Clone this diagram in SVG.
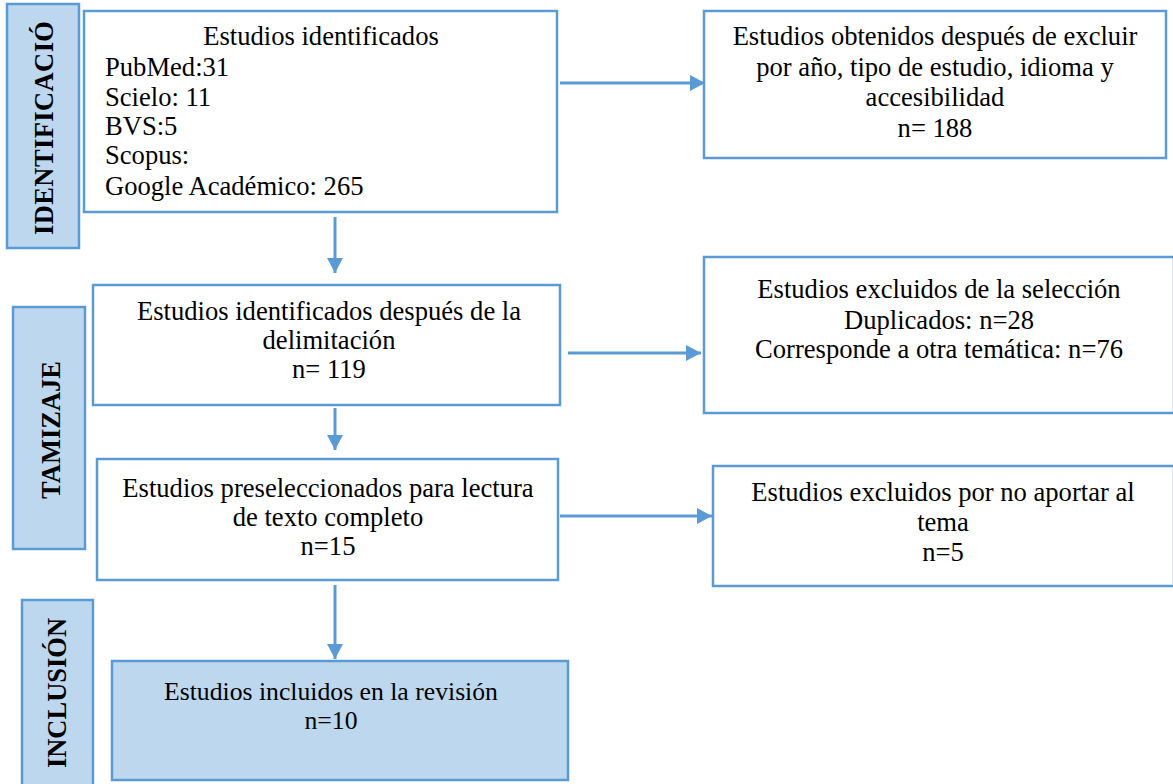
<svg xmlns="http://www.w3.org/2000/svg" width="1173" height="784" viewBox="0 0 1173 784">
<style>
.box{fill:#ffffff;stroke:#5b9bd5;stroke-width:2.5}
.lab{fill:#bdd7ee;stroke:#5b9bd5;stroke-width:2.5}
.t{font-family:"Liberation Serif","Times New Roman",serif;font-size:26.6px;fill:#000}
.s{font-size:25.7px}
.c{text-anchor:middle}
.b{font-family:"Liberation Serif","Times New Roman",serif;font-size:26.5px;font-weight:bold;fill:#000;text-anchor:middle}
.con{stroke:#5b9bd5;stroke-width:3;fill:none}
</style>
<defs>
<marker id="ah" markerUnits="userSpaceOnUse" markerWidth="16" markerHeight="16" refX="15" refY="8" orient="auto">
<path d="M0,0 L15,8 L0,16 Z" fill="#5b9bd5"/>
</marker>
</defs>
<g id="label-identificacion">
<rect class="lab" x="7" y="4" width="72" height="244"/>
<text class="b" transform="translate(53,128) rotate(-90)" textLength="214" lengthAdjust="spacing">IDENTIFICACIÓ</text>
</g>
<g id="label-tamizaje">
<rect class="lab" x="13" y="307" width="72" height="242"/>
<text class="b" transform="translate(60,430) rotate(-90)">TAMIZAJE</text>
</g>
<g id="label-inclusion">
<rect class="lab" x="22" y="600" width="71" height="190"/>
<text class="b" transform="translate(66,693) rotate(-90)">INCLUSIÓN</text>
</g>
<g id="identificados">
<rect class="box" x="84" y="11" width="473" height="201"/>
<text class="t c" x="321" y="45">Estudios identificados</text>
<text class="t" x="105" y="76">PubMed:31</text>
<text class="t" x="105" y="106">Scielo: 11</text>
<text class="t" x="105" y="135">BVS:5</text>
<text class="t" x="105" y="164">Scopus:</text>
<text class="t" x="105" y="195">Google Académico: 265</text>
</g>
<g id="obtenidos">
<rect class="box" x="704" y="11" width="462" height="147"/>
<text class="t c" x="935" y="45">Estudios obtenidos después de excluir</text>
<text class="t c" x="935" y="76">por año, tipo de estudio, idioma y</text>
<text class="t c" x="935" y="106">accesibilidad</text>
<text class="t c" x="935" y="137">n= 188</text>
</g>
<g id="delimitacion">
<rect class="box" x="93" y="285" width="467" height="120"/>
<text class="t c" x="329" y="320">Estudios identificados después de la</text>
<text class="t c" x="329" y="349">delimitación</text>
<text class="t c" x="329" y="378">n= 119</text>
</g>
<g id="excluidos-seleccion">
<rect class="box" x="704" y="257" width="470" height="156"/>
<text class="t c" x="939" y="298">Estudios excluidos de la selección</text>
<text class="t c" x="939" y="329">Duplicados: n=28</text>
<text class="t c" x="939" y="358">Corresponde a otra temática: n=76</text>
</g>
<g id="preseleccionados">
<rect class="box" x="97" y="459" width="461" height="121"/>
<text class="t c" x="328" y="497">Estudios preseleccionados para lectura</text>
<text class="t c" x="328" y="526">de texto completo</text>
<text class="t c" x="328" y="555">n=15</text>
</g>
<g id="excluidos-tema">
<rect class="box" x="713" y="466" width="461" height="120"/>
<text class="t c" x="943" y="501">Estudios excluidos por no aportar al</text>
<text class="t c" x="943" y="531">tema</text>
<text class="t c" x="943" y="561">n=5</text>
</g>
<g id="incluidos">
<rect class="lab" x="112" y="661" width="456" height="119"/>
<text class="t s c" x="331" y="700">Estudios incluidos en la revisión</text>
<text class="t s c" x="331" y="729">n=10</text>
</g>
<g id="connectors">
<line class="con" x1="560" y1="83" x2="705" y2="83" marker-end="url(#ah)"/>
<line class="con" x1="335" y1="217" x2="335" y2="273" marker-end="url(#ah)"/>
<line class="con" x1="568" y1="353" x2="701" y2="353" marker-end="url(#ah)"/>
<line class="con" x1="335" y1="408" x2="335" y2="450" marker-end="url(#ah)"/>
<line class="con" x1="560" y1="516" x2="712" y2="516" marker-end="url(#ah)"/>
<line class="con" x1="335" y1="585" x2="335" y2="659" marker-end="url(#ah)"/>
</g>
</svg>
